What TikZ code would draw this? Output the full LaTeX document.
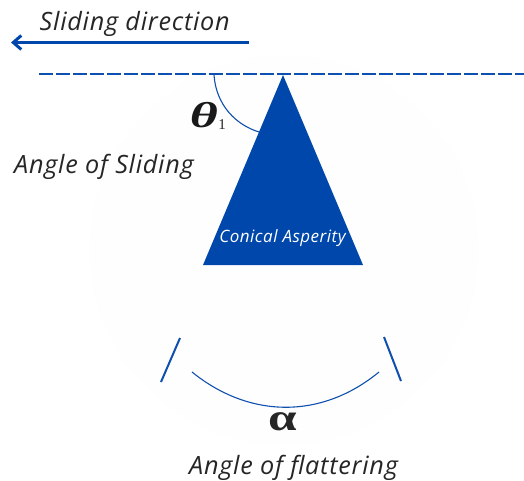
\documentclass[tikz,border=0pt]{standalone}
\usepackage{fontspec}
\usetikzlibrary{arrows.meta}
\setmainfont{Open Sans}[LetterSpace=3]
\newfontfamily\greekf{Liberation Serif}
\definecolor{asp}{HTML}{0047AB}
\definecolor{lin}{HTML}{0F50AE}
\tikzset{
  lab/.style={anchor=base west,inner sep=0pt,text=black!85,font=\fontsize{25.2}{28}\selectfont\itshape},
  bl/.style={draw=lin,line width=2pt},
  thinl/.style={draw=lin,line width=1.1pt},
}
\begin{document}
\begin{tikzpicture}[x=1pt,y=-1pt]
\useasboundingbox (0,0) rectangle (524,481);
\fill[black!0.5] (284,250) circle (195);
\node[lab] (sd) at (39.5,30.5) {Sliding direction};
\node[lab] (as) at (14,173.5) {Angle of Sliding};
\node[lab] (af) at (189,474.5) {Angle of flattering};
\coordinate (arrS) at (249,42.5);
\coordinate (arrE) at (11,42.5);
\draw[draw=asp,line width=3.2pt,-{Straight Barb[length=8pt,width=14pt,line width=3pt]}] (arrS) -- (arrE);
\coordinate (dS) at (39,74.5);
\coordinate (dE) at (524,74.5);
\draw[bl,dash pattern=on 13.5pt off 3.5pt] (dS) -- (dE);
\coordinate (apex) at (283,75);
\coordinate (bl) at (203,265);
\coordinate (br) at (363,265);
\fill[asp] (apex) -- (br) -- (bl) -- cycle;
\node[inner sep=0pt,text=white,font=\fontsize{17}{20}\selectfont\itshape] (ca) at (282.5,238) {Conical Asperity};
\coordinate (a1) at (214,75);
\coordinate (a2) at (259,132);
\draw[thinl] (a1) .. controls (216,105) and (236,125) .. (a2);
\node[inner sep=0pt,text=black!90,xscale=1.5,transform shape,font=\fontsize{36}{36}\selectfont\greekf\bfseries\itshape] (th) at (204,115.5) {θ};
\node[inner sep=0pt,anchor=base,text=black!85,font=\fontsize{15}{16}\selectfont\greekf] (one) at (222,130) {1};
\coordinate (l1) at (180,338);
\coordinate (l2) at (161,382);
\coordinate (r1) at (384,337);
\coordinate (r2) at (401,381);
\draw[bl] (l1) -- (l2);
\draw[bl] (r1) -- (r2);
\coordinate (c1) at (192,372);
\coordinate (c2) at (379,372);
\draw[thinl] (c1) .. controls (250,419) and (322,419) .. (c2);
\node[inner sep=0pt,text=black!85,xscale=1.35,transform shape,font=\fontsize{38}{38}\selectfont\greekf\bfseries] (al) at (283,422) {α};
\end{tikzpicture}
\end{document}
